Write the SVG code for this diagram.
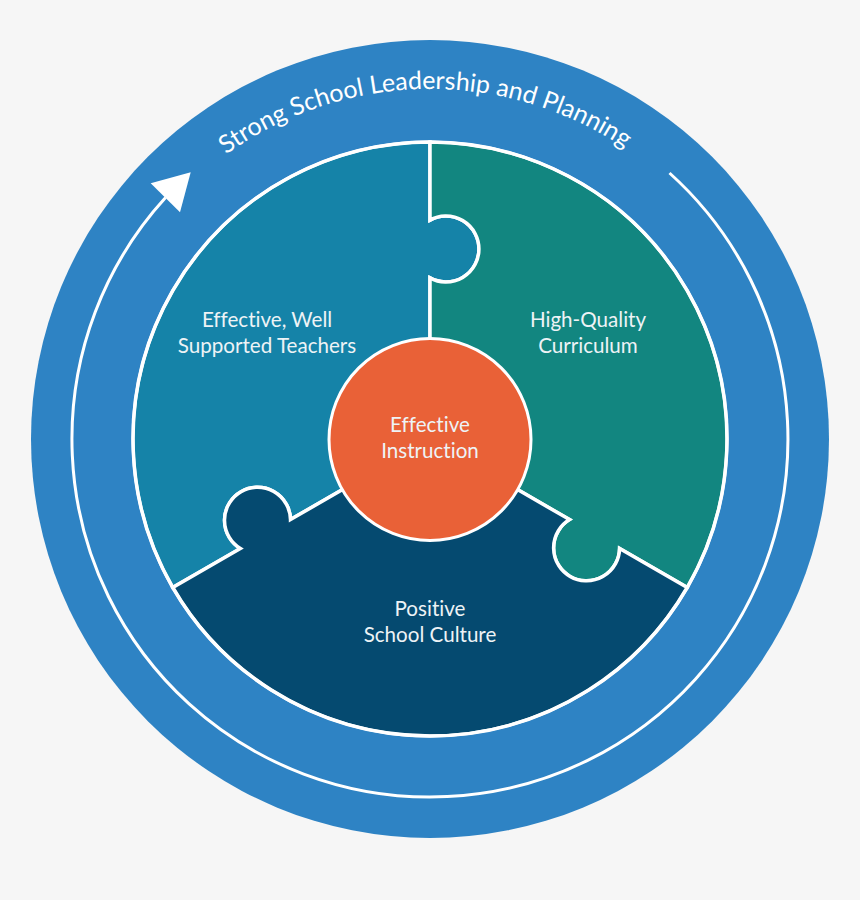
<svg xmlns="http://www.w3.org/2000/svg" width="860" height="900" viewBox="0 0 860 900">
  <style>
    .piece { stroke: #ffffff; stroke-width: 3.5; stroke-linejoin: miter; }
    .lbl { font-family: Lato, "Open Sans", "Liberation Sans", sans-serif; font-size: 20.6px; fill: #eef3f6; text-anchor: middle; font-variant-ligatures: none; }
    .title { font-family: Lato, "Open Sans", "Liberation Sans", sans-serif; font-size: 25px; fill: #ffffff; font-variant-ligatures: none; }
  </style>
  <defs>
    <path id="titlePath" d="M80,439 A350,350 0 0 1 780,439"/>
  </defs>
  <rect width="860" height="900" fill="#f6f6f6"/>

  <g id="ring">
    <circle cx="430" cy="439" r="399" fill="#2e83c4"/>
  </g>

  <g id="connectors">
    <path d="M669.5,173 A358,358 0 1 1 165.6,197.6" fill="none" stroke="#ffffff" stroke-width="3"/>
    <polygon points="150.7,183.3 190.7,172.3 180,212.3" fill="#ffffff"/>
  </g>

  <g id="title">
    <text class="title"><textPath href="#titlePath" startOffset="544" text-anchor="middle">Strong School Leadership and Planning</textPath></text>
  </g>

  <g id="teachers">
    <path class="piece" fill="#1583a8" d="M430,439 L430,277.9 A33,33 0 1 0 430,220.1 L430,142 A297,297 0 0 0 172.8,587.5 L240.4,548.5 A33,33 0 1 1 290.5,519.6 Z"/>
    <text class="lbl" x="267" y="327">Effective, Well</text>
    <text class="lbl" x="267" y="353">Supported Teachers</text>
  </g>

  <g id="curriculum">
    <path class="piece" fill="#128680" d="M430,439 L430,277.9 A33,33 0 1 0 430,220.1 L430,142 A297,297 0 0 1 687.2,587.5 L619.6,548.5 A33,33 0 1 1 569.5,519.6 Z"/>
    <text class="lbl" x="588" y="327">High-Quality</text>
    <text class="lbl" x="588" y="353">Curriculum</text>
  </g>

  <g id="culture">
    <path class="piece" fill="#054a70" d="M430,439 L290.5,519.6 A33,33 0 1 0 240.4,548.5 L172.8,587.5 A297,297 0 0 0 687.2,587.5 L619.6,548.5 A33,33 0 1 1 569.5,519.6 Z"/>
    <text class="lbl" x="430" y="616">Positive</text>
    <text class="lbl" x="430" y="642">School Culture</text>
  </g>

  <g id="border">
    <circle cx="430" cy="439" r="297" fill="none" stroke="#ffffff" stroke-width="3"/>
  </g>

  <g id="instruction">
    <circle cx="430" cy="439.5" r="101" fill="#e96137" stroke="#ffffff" stroke-width="3"/>
    <text class="lbl" x="430" y="432">Effective</text>
    <text class="lbl" x="430" y="458">Instruction</text>
  </g>
</svg>
